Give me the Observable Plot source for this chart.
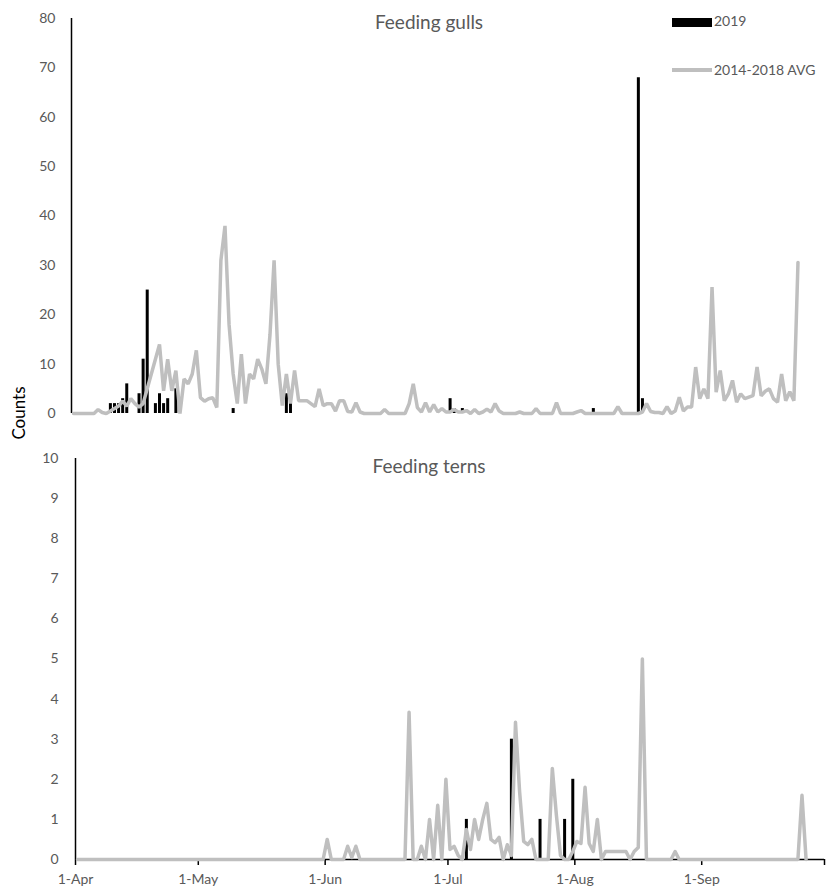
<!DOCTYPE html>
<html><head><meta charset="utf-8">
<script src="https://cdn.jsdelivr.net/npm/d3@7"></script>
<script src="https://cdn.jsdelivr.net/npm/@observablehq/plot@0.6"></script>
<style>
body{margin:0;background:#fff;}
#wrap{position:relative;width:827px;height:892px;font-family:Lato,"Open Sans",sans-serif;overflow:hidden;}
.t{position:absolute;color:#595959;white-space:nowrap;}
.p{position:absolute;left:0;}
</style></head><body><div id="wrap"></div>
<script>
// Daily values, index 0 = 1 April
const gullsAvg = [
0,0,0,0,0,0,0.8,0.2,0,0.5, 1,1.5,2.5,1.5,3,2,1.3,2,5,8,
11,14,4.6,11,4.6,8.7,0,7,6,8, 12.8,3.2,2.5,3,3.2,1.2,31,38,18,8,
2,12,2,8,7,11,9,6,16,31, 10,1.6,8,2,8.7,2.6,2.6,2.6,2,1.4,
5,1.6,2,2,0.5,2.6,2.6,0.4,0.3,2.2, 0.3,0,0,0,0,0,0.8,0,0,0,
0,0,2,6,1.2,0.3,2.2,0.3,1.8,0.3, 1,0.3,0.3,0.8,0.3,0.3,0.6,0,0.8,0,
0.3,0.9,0.3,2,0.5,0,0,0,0,0.3, 0,0,0,1,0,0,0,0,2.2,0,
0,0,0,0.3,0.6,0,0,0,0,0, 0,0,0,1.4,0,0,0,0,0,0.3,
2,0.4,0.2,0.2,0,1.4,0,0.5,3.3,0.5, 1.3,1.3,9.4,3,5,3,25.6,4.3,8.7,2.6,
4,6.7,2.3,4,3,3.3,3.6,9.4,3.6,4.5, 5,3,2.3,8,2.6,4.4,2.6,30.6
];
const gulls2019Days   = [9,10,11,12,13,16,17,18,20,21,22,23,25,39,52,53,92,93,95,127,138,139];
const gulls2019Counts = [2,2,2,3,6,4,11,25,2,4,2,3,5,1,4,3,3,1,1,1,68,3];

const ternsAvg = [
0,0,0,0,0,0,0,0,0,0, 0,0,0,0,0,0,0,0,0,0,
0,0,0,0,0,0,0,0,0,0, 0,0,0,0,0,0,0,0,0,0,
0,0,0,0,0,0,0,0,0,0, 0,0,0,0,0,0,0,0,0,0,
0,0.5,0,0,0,0,0.33,0.05,0.33,0, 0,0,0,0,0,0,0,0,0,0,
0,3.67,0,0,0.33,0,1.0,0,1.35,0, 2.0,0.25,0.33,0.1,0,0.75,0.25,1.0,0.5,1.0,
1.4,0.5,0.42,0.55,0,0.37,0.1,3.42,1.7,0.45, 0.37,0.5,0,0,0,0,2.27,1.1,0.1,0,
0,0.2,0.45,0.4,1.8,0.4,0.2,1.0,0,0.2, 0.2,0.2,0.2,0.2,0.2,0,0.2,0.3,5.0,0,
0,0,0,0,0,0,0.2,0,0,0, 0,0,0,0,0,0,0,0,0,0,
0,0,0,0,0,0,0,0,0,0, 0,0,0,0,0,0,0,1.6,0
];
const terns2019Days   = [95,106,113,119,121];
const terns2019Counts = [1,3,1,1,2];

const monthLabels = ["1-Apr","1-May","1-Jun","1-Jul","1-Aug","1-Sep",""];
const gullTicks = [0,10,20,30,40,50,60,70,80];
const ternTicks = [0,1,2,3,4,5,6,7,8,9,10];

const DAY = 86400000;
const t0 = Date.UTC(2019,3,1);
const tEnd = Date.UTC(2019,9,1);
const dayCenter = d => new Date(t0 + d*DAY + DAY/2);
const monthDates = [3,4,5,6,7,8,9].map(m => new Date(Date.UTC(2019,m,1)));

const gAvg = gullsAvg.map((v,i)=>({date:dayCenter(i), v}));
const g19 = gulls2019Days.map((d,i)=>({date:dayCenter(d), v:gulls2019Counts[i]}));
const tAvg = ternsAvg.map((v,i)=>({date:dayCenter(i), v}));
const t19 = terns2019Days.map((d,i)=>({date:dayCenter(d), v:terns2019Counts[i]}));

const GRAY = "#BFBFBF";
const style = {fontFamily:'Lato,"Open Sans",sans-serif', fontSize:"14px", color:"#595959", background:"transparent"};

const topPlot = Plot.plot({
  width:827, height:425, marginLeft:71, marginRight:7, marginTop:18, marginBottom:12,
  style,
  x:{type:"utc", domain:[new Date(t0), new Date(tEnd)], axis:null},
  y:{domain:[0,80], axis:null},
  marks:[
    Plot.axisY({ticks:gullTicks, tickSize:0, tickPadding:16, label:null, fill:"#595959"}),
    Plot.ruleX([new Date(t0)], {y1:0, y2:80, stroke:"black", strokeWidth:1.5}),
    Plot.ruleX(g19, {x:"date", y1:0, y2:"v", stroke:"black", strokeWidth:3}),
    Plot.line(gAvg, {x:"date", y:"v", stroke:GRAY, strokeWidth:3.5, strokeLinejoin:"miter"})
  ]
});

const botPlot = Plot.plot({
  width:827, height:467, marginLeft:75, marginRight:3, marginTop:33, marginBottom:33,
  style,
  x:{type:"utc", domain:[new Date(t0), new Date(tEnd)], axis:null},
  y:{domain:[0,10], axis:null},
  marks:[
    Plot.axisY({ticks:ternTicks, tickSize:0, tickPadding:17, label:null, fill:"#595959"}),
    Plot.axisX({ticks:monthDates, tickFormat:(d,i)=>monthLabels[i], tickSize:6, tickPadding:9, label:null, stroke:"black", strokeWidth:1.5, fill:"#595959"}),
    Plot.ruleX([new Date(t0)], {y1:0, y2:10, stroke:"black", strokeWidth:1.5}),
    Plot.ruleY([0], {stroke:"black", strokeWidth:1.5}),
    Plot.ruleX(t19, {x:"date", y1:0, y2:"v", stroke:"black", strokeWidth:3}),
    Plot.line(tAvg, {x:"date", y:"v", stroke:GRAY, strokeWidth:3.5})
  ]
});

const wrap = document.getElementById("wrap");
topPlot.classList.add("p"); topPlot.style.top="0px";
botPlot.classList.add("p"); botPlot.style.top="425px";
wrap.appendChild(topPlot); wrap.appendChild(botPlot);

function addText(txt, css){
  const el=document.createElement("div"); el.className="t"; el.textContent=txt;
  Object.assign(el.style, css); wrap.appendChild(el); return el;
}
addText("Feeding gulls",{left:"429px",top:"10px",transform:"translateX(-50%)",fontSize:"19px"});
addText("Feeding terns",{left:"429px",top:"454px",transform:"translateX(-50%)",fontSize:"19px"});
addText("Counts",{left:"18px",top:"413px",transform:"translate(-50%,-50%) rotate(-90deg)",fontSize:"17px",color:"#000"});
// legend
const sw=document.createElement("div");
Object.assign(sw.style,{position:"absolute",left:"672px",top:"18px",width:"40px",height:"9px",background:"#000"});
wrap.appendChild(sw);
const ln=document.createElement("div");
Object.assign(ln.style,{position:"absolute",left:"672px",top:"68px",width:"40px",height:"3.5px",background:GRAY});
wrap.appendChild(ln);
addText("2019",{left:"714px",top:"12px",fontSize:"14px"});
addText("2014-2018 AVG",{left:"714px",top:"61px",fontSize:"14px"});
</script></body></html>
